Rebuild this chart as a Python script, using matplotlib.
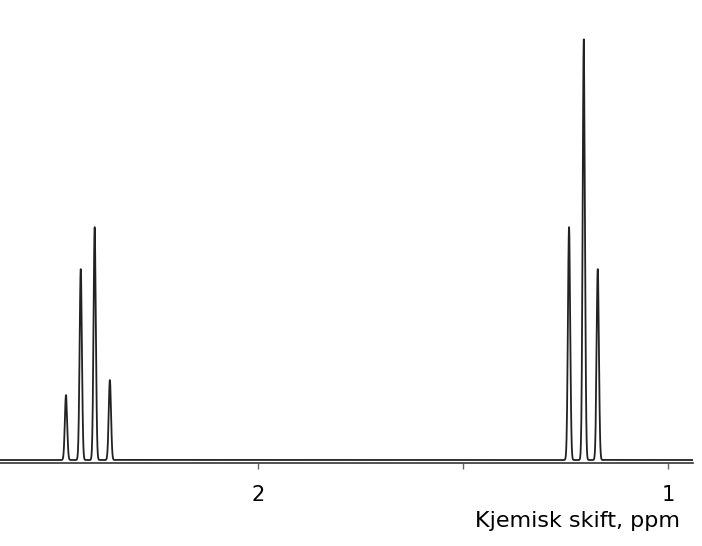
import numpy as np
import matplotlib
matplotlib.use("Agg")
import matplotlib.pyplot as plt

peak_ppm = [2.468, 2.432, 2.398, 2.361, 1.241, 1.205, 1.171]
peak_height = [65, 191, 233, 80, 233, 421, 191]
tick_positions = [2, 1.5, 1]
tick_labels = ["2", "", "1"]

fig = plt.figure(figsize=(7.02, 5.46), dpi=100)
ax = fig.add_axes([0, 0.152, 0.987, 0.798])
x = np.linspace(0.939, 2.629, 20000)
s = 0.0028
y = np.zeros_like(x)
for p, h in zip(peak_ppm, peak_height):
    y += h * np.exp(-0.5 * ((x - p) / s) ** 2)
ax.plot(x, y, color="#222222", lw=1.3)
ax.set_xlim(2.629, 0.939)
ax.set_ylim(-3, 433)
for sp in ["top", "left", "right"]:
    ax.spines[sp].set_visible(False)
ax.spines["bottom"].set_color("#444444")
ax.spines["bottom"].set_linewidth(1.3)
ax.set_yticks([])
ax.set_xticks(tick_positions)
ax.set_xticklabels(tick_labels, fontsize=15)
ax.tick_params(axis="x", length=4, width=1, color="#666666", pad=12)
fig.text(0.968, 0.035, "Kjemisk skift, ppm", ha="right", fontsize=16)
fig.savefig("out.png", dpi=100)
